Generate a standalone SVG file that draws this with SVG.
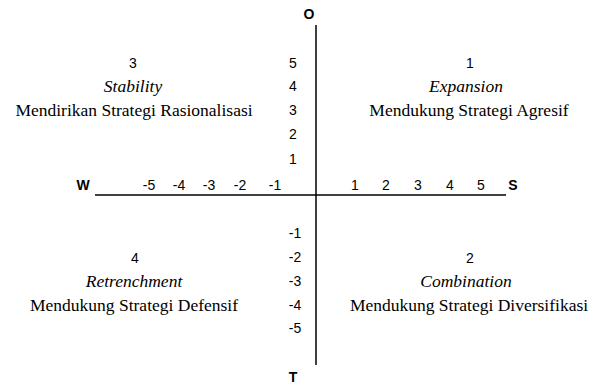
<svg xmlns="http://www.w3.org/2000/svg" width="598" height="385" viewBox="0 0 598 385">
<style>
.n{font-family:"Liberation Sans",Arial,sans-serif;font-size:14px;fill:#000}
.b{font-family:"Liberation Sans",Arial,sans-serif;font-size:14px;font-weight:bold;fill:#000}
.t{font-family:"Liberation Serif","Times New Roman",serif;font-size:17.5px;fill:#000}
.i{font-style:italic}
.ax{stroke:#000;stroke-width:1.5;fill:none}
</style>
<rect width="598" height="385" fill="#fff"/>
<g id="axes">
<line class="ax" x1="316" y1="25" x2="316" y2="365"/>
<line class="ax" x1="95" y1="195" x2="506" y2="195"/>
</g>
<g id="axis-labels">
<text class="b" x="309" y="19" text-anchor="middle">O</text>
<text class="b" x="293" y="382" text-anchor="middle">T</text>
<text class="b" x="83" y="190" text-anchor="middle">W</text>
<text class="b" x="513" y="190" text-anchor="middle">S</text>
</g>
<g id="x-ticks" class="n" text-anchor="middle">
<text x="149" y="190">-5</text>
<text x="179" y="190">-4</text>
<text x="209" y="190">-3</text>
<text x="240" y="190">-2</text>
<text x="275" y="190">-1</text>
<text x="355" y="190">1</text>
<text x="386" y="190">2</text>
<text x="418" y="190">3</text>
<text x="450" y="190">4</text>
<text x="481" y="190">5</text>
</g>
<g id="y-ticks" class="n" text-anchor="middle">
<text x="293" y="68">5</text>
<text x="293" y="91">4</text>
<text x="293" y="115">3</text>
<text x="293" y="139">2</text>
<text x="293" y="164">1</text>
<text x="295" y="238">-1</text>
<text x="295" y="262">-2</text>
<text x="295" y="286">-3</text>
<text x="295" y="310">-4</text>
<text x="295" y="333">-5</text>
</g>
<g id="q3" text-anchor="middle">
<text class="n" x="133" y="68">3</text>
<text class="t i" x="133" y="92">Stability</text>
<text class="t" x="134" y="116">Mendirikan Strategi Rasionalisasi</text>
</g>
<g id="q1" text-anchor="middle">
<text class="n" x="470" y="68">1</text>
<text class="t i" x="466" y="92">Expansion</text>
<text class="t" x="469" y="116">Mendukung Strategi Agresif</text>
</g>
<g id="q4" text-anchor="middle">
<text class="n" x="135" y="263">4</text>
<text class="t i" x="134" y="287">Retrenchment</text>
<text class="t" x="134" y="311">Mendukung Strategi Defensif</text>
</g>
<g id="q2" text-anchor="middle">
<text class="n" x="470" y="263">2</text>
<text class="t i" x="466" y="287">Combination</text>
<text class="t" x="469" y="311">Mendukung Strategi Diversifikasi</text>
</g>
</svg>
